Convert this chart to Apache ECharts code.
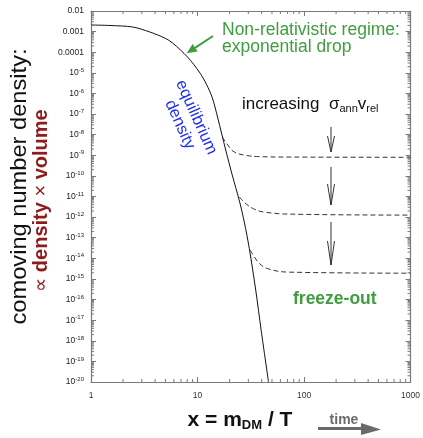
<!DOCTYPE html>
<html>
<head>
<meta charset="utf-8">
<script src="https://cdn.jsdelivr.net/npm/echarts@6.0.0/dist/echarts.min.js"></script>
<style>
  html, body { margin: 0; padding: 0; background: #fff; }
  #chart { width: 423px; height: 438px; }
</style>
</head>
<body>
<div id="chart"></div>
<script>
// equilibrium density (solid curve)
const eqX = [1, 1.51, 2.47, 3.56, 4.92, 5.84, 8.07, 10.4, 12.1, 13.8, 15.5, 18.4, 21.2, 24.9, 27.5, 30.6, 35.2, 39.6, 46.4];
const eqY = [2.09e-3, 1.98e-3, 1.67e-3, 9.6e-4, 4.9e-4, 2.8e-4, 5.8e-5, 1.09e-5, 2.86e-6, 5.98e-7, 6.4e-8, 1.79e-9, 1.09e-10, 5.3e-12, 5.7e-13, 3.1e-14, 2.9e-16, 3.2e-18, 1e-20];

// freeze-out curves (dashed), increasing sigma*v from top to bottom
const fo1X = [17.1, 19.9, 22.2, 27.5, 37.9, 72.4, 1000];
const fo1Y = [7.6e-9, 2.5e-9, 1.43e-9, 1.02e-9, 8.6e-10, 8.2e-10, 8.0e-10];
const fo2X = [24.7, 28.7, 34.1, 42.3, 72.4, 1000];
const fo2Y = [9.4e-12, 4.3e-12, 2.44e-12, 1.75e-12, 1.4e-12, 1.25e-12];
const fo3X = [31.3, 37.9, 47.1, 72.4, 1000];
const fo3Y = [2.5e-14, 5.8e-15, 3.0e-15, 2.14e-15, 1.9e-15];

// tick labels; y labels indexed by exponent -20 .. -2
const xTickLabels = ['1', '10', '100', '1000'];
const yTickLabels = ['10^-20', '10^-19', '10^-18', '10^-17', '10^-16', '10^-15', '10^-14', '10^-13', '10^-12', '10^-11',
  '10^-10', '10^-9', '10^-8', '10^-7', '10^-6', '10^-5', '0.0001', '0.001', '0.01'];

const xMin = 1, xMax = 1000, yMin = 1e-20, yMax = 0.01;

// minor ticks at 2..9 of each decade
const xMinor = [];
for (let k = 0; k < 3; k++) for (let m = 2; m <= 9; m++) xMinor.push(m * Math.pow(10, k));
const yMinor = [];
for (let k = -20; k < -2; k++) for (let m = 2; m <= 9; m++) yMinor.push(m * Math.pow(10, k));

const frame = '#7a7a7a';
const green = '#3f9d3f';
const font = 'Liberation Sans, Arial, sans-serif';

function zip(xs, ys) { return xs.map((x, i) => [x, ys[i]]); }

// "10^-5" -> rich text with a raised exponent
function yLabel(v) {
  const s = yTickLabels[Math.round(Math.log10(v)) + 20];
  const p = s.split('^');
  return p.length > 1 ? '{b|' + p[0] + '}{s|' + p[1] + '}' : '{b|' + s + '}';
}

function minorTicks(values, isX) {
  return {
    type: 'custom',
    silent: true,
    z: 5,
    data: values.map(v => isX ? [v, yMin] : [xMin, v]),
    renderItem: function (params, api) {
      const st = { stroke: frame, lineWidth: 1 };
      if (isX) {
        const v = api.value(0);
        const a = api.coord([v, yMin]), b = api.coord([v, yMax]);
        return { type: 'group', children: [
          { type: 'line', shape: { x1: a[0], y1: a[1], x2: a[0], y2: a[1] - 3 }, style: st },
          { type: 'line', shape: { x1: b[0], y1: b[1], x2: b[0], y2: b[1] + 3 }, style: st }
        ] };
      }
      const v = api.value(1);
      const a = api.coord([xMin, v]), b = api.coord([xMax, v]);
      return { type: 'group', children: [
        { type: 'line', shape: { x1: a[0], y1: a[1], x2: a[0] + 3, y2: a[1] }, style: st },
        { type: 'line', shape: { x1: b[0], y1: b[1], x2: b[0] - 3, y2: b[1] }, style: st }
      ] };
    }
  };
}

function logAxis(pos, min, max, labels) {
  return {
    type: 'log', logBase: 10, position: pos, min: min, max: max, interval: 1,
    axisLine: { show: true, onZero: false, lineStyle: { color: frame, width: 1.2 } },
    axisTick: { show: true, inside: true, length: 5, lineStyle: { color: frame, width: 1 } },
    splitLine: { show: false },
    minorTick: { show: false },
    axisLabel: labels
  };
}

const chart = echarts.init(document.getElementById('chart'));

chart.setOption({
  animation: false,
  backgroundColor: '#fff',
  textStyle: { fontFamily: font },
  grid: { left: 91, right: 11, top: 11, bottom: 56 },
  xAxis: [
    logAxis('bottom', xMin, xMax, {
      show: true, margin: 9, fontSize: 8.5, color: '#333', fontFamily: font,
      formatter: v => xTickLabels[Math.round(Math.log10(v))]
    }),
    logAxis('top', xMin, xMax, { show: false })
  ],
  yAxis: [
    logAxis('left', yMin, yMax, {
      show: true, margin: 7, formatter: yLabel,
      rich: {
        b: { fontSize: 8.5, color: '#222', fontFamily: font, lineHeight: 11 },
        s: { fontSize: 6, color: '#222', fontFamily: font, lineHeight: 7, verticalAlign: 'top' }
      }
    }),
    logAxis('right', yMin, yMax, { show: false })
  ],
  series: [
    {
      type: 'line', data: zip(eqX, eqY), showSymbol: false, smooth: 0.3, clip: true,
      lineStyle: { color: '#111', width: 1 }, z: 4
    },
    {
      type: 'line', data: zip(fo1X, fo1Y), showSymbol: false, smooth: 0.4,
      lineStyle: { color: '#333', width: 1, type: [5, 3] }
    },
    {
      type: 'line', data: zip(fo2X, fo2Y), showSymbol: false, smooth: 0.4,
      lineStyle: { color: '#333', width: 1, type: [5, 3] }
    },
    {
      type: 'line', data: zip(fo3X, fo3Y), showSymbol: false, smooth: 0.4,
      lineStyle: { color: '#333', width: 1, type: [5, 3] }
    },
    minorTicks(xMinor, true),
    minorTicks(yMinor, false)
  ],
  graphic: [
    // y axis title
    { type: 'text', x: 20.5, y: 186.5, rotation: Math.PI / 2, scaleX: 1.1,
      style: { text: 'comoving number density:', fontSize: 21.5, fontFamily: font, fill: '#111',
        align: 'center', verticalAlign: 'middle' } },
    { type: 'text', x: 41.5, y: 200.5, rotation: Math.PI / 2,
      style: { text: '{n|∝ }{b|density}{n| × }{b|volume}', fontFamily: font, align: 'center', verticalAlign: 'middle',
        rich: {
          n: { fontSize: 20, fill: '#8e1c1c', fontFamily: font },
          b: { fontSize: 20, fill: '#8e1c1c', fontWeight: 'bold', fontFamily: font }
        } } },
    // x axis title
    { type: 'text', x: 240, y: 420,
      style: { text: '{m|x = m}{s|DM}{m| / T}', fontFamily: font, align: 'center', verticalAlign: 'middle',
        rich: {
          m: { fontSize: 21, fontWeight: 'bold', fill: '#111', fontFamily: font, lineHeight: 24 },
          s: { fontSize: 13, fontWeight: 'bold', fill: '#111', fontFamily: font, lineHeight: 6, verticalAlign: 'bottom' }
        } } },
    // time arrow
    { type: 'text', x: 344, y: 420,
      style: { text: 'time', fontSize: 14, fontWeight: 'bold', fill: '#6a6a6a', fontFamily: font,
        align: 'center', verticalAlign: 'middle' } },
    { type: 'line', shape: { x1: 318, y1: 428.5, x2: 364, y2: 428.5 }, style: { stroke: '#6a6a6a', lineWidth: 3 } },
    { type: 'polygon', shape: { points: [[361, 423], [381, 429.5], [361, 435]] }, style: { fill: '#6a6a6a' } },
    // non-relativistic annotation
    { type: 'text', x: 222, y: 30.5,
      style: { text: 'Non-relativistic regime:', fontSize: 17.5, fill: green, fontFamily: font, align: 'left', verticalAlign: 'middle' } },
    { type: 'text', x: 222, y: 47,
      style: { text: 'exponential drop', fontSize: 17.5, fill: green, fontFamily: font, align: 'left', verticalAlign: 'middle' } },
    { type: 'line', shape: { x1: 213, y1: 36, x2: 195, y2: 47.8 }, style: { stroke: green, lineWidth: 2 } },
    { type: 'polygon', shape: { points: [[186.7, 53.3], [197.6, 51.6], [192.6, 44.0]] }, style: { fill: green } },
    // equilibrium label
    { type: 'text', x: 188, y: 121, rotation: -1.15,
      style: { text: 'equilibrium\ndensity', fontSize: 16.5, lineHeight: 18, fill: '#1f2ff0', fontFamily: font,
        align: 'center', verticalAlign: 'middle' } },
    // increasing sigma v
    { type: 'text', x: 242, y: 104,
      style: { text: '{m|increasing  σ}{s|ann}{m|v}{s|rel}', fontFamily: font, align: 'left', verticalAlign: 'middle',
        rich: {
          m: { fontSize: 17, fill: '#111', fontFamily: font, lineHeight: 20 },
          s: { fontSize: 11, fill: '#111', fontFamily: font, lineHeight: 5, verticalAlign: 'bottom' }
        } } },
    // down arrows
    { type: 'line', shape: { x1: 331, y1: 127, x2: 331, y2: 152 }, style: { stroke: '#333', lineWidth: 1 } },
    { type: 'polyline', shape: { points: [[327.5, 136], [331, 152], [334.5, 136]] }, style: { stroke: '#333', lineWidth: 1, fill: null } },
    { type: 'line', shape: { x1: 331, y1: 167, x2: 331, y2: 205 }, style: { stroke: '#333', lineWidth: 1 } },
    { type: 'polyline', shape: { points: [[327.5, 184], [331, 205], [334.5, 184]] }, style: { stroke: '#333', lineWidth: 1, fill: null } },
    { type: 'line', shape: { x1: 331, y1: 222, x2: 331, y2: 265 }, style: { stroke: '#333', lineWidth: 1 } },
    { type: 'polyline', shape: { points: [[327.5, 241], [331, 265], [334.5, 241]] }, style: { stroke: '#333', lineWidth: 1, fill: null } },
    // freeze-out
    { type: 'text', x: 293, y: 299,
      style: { text: 'freeze-out', fontSize: 17.5, fontWeight: 'bold', fill: green, fontFamily: font, align: 'left', verticalAlign: 'middle' } }
  ]
});
</script>
</body>
</html>
